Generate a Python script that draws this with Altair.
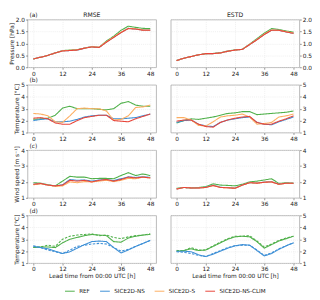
import altair as alt
import pandas as pd

T = [0, 3, 6, 9, 12, 15, 18, 21, 24, 27, 30, 33, 36, 39, 42, 45, 48]
SERIES = ["REF", "SICE2D-NS", "SICE2D-S", "SICE2D-NS-CLIM"]
COLORS = ["#4fb04a", "#3d8fd6", "#fdae61", "#e8453a"]
X_TICKS = [0, 12, 24, 36, 48]

# (a) pressure
A_RMSE_REF = [0.35, 0.42, 0.5, 0.6, 0.7, 0.72, 0.74, 0.8, 0.86, 0.83, 1.1, 1.3, 1.55, 1.72, 1.67, 1.63, 1.62]
A_RMSE_NS = [0.35, 0.42, 0.5, 0.6, 0.69, 0.7, 0.72, 0.8, 0.86, 0.83, 1.06, 1.26, 1.46, 1.63, 1.6, 1.56, 1.56]
A_RMSE_S = [0.35, 0.42, 0.5, 0.6, 0.69, 0.71, 0.73, 0.8, 0.86, 0.84, 1.07, 1.27, 1.47, 1.63, 1.61, 1.56, 1.56]
A_RMSE_CLIM = [0.35, 0.42, 0.5, 0.6, 0.68, 0.7, 0.72, 0.8, 0.85, 0.83, 1.05, 1.25, 1.45, 1.62, 1.6, 1.55, 1.55]
A_ESTD_REF = [0.28, 0.38, 0.45, 0.52, 0.57, 0.58, 0.61, 0.68, 0.73, 0.75, 0.97, 1.2, 1.43, 1.62, 1.58, 1.52, 1.47]
A_ESTD_NS = [0.28, 0.38, 0.45, 0.52, 0.57, 0.57, 0.6, 0.67, 0.72, 0.75, 0.95, 1.16, 1.38, 1.55, 1.55, 1.48, 1.42]
A_ESTD_S = [0.28, 0.38, 0.45, 0.52, 0.57, 0.57, 0.6, 0.67, 0.72, 0.75, 0.96, 1.16, 1.39, 1.56, 1.55, 1.49, 1.43]
A_ESTD_CLIM = [0.28, 0.38, 0.45, 0.52, 0.57, 0.57, 0.6, 0.67, 0.72, 0.75, 0.95, 1.15, 1.37, 1.55, 1.55, 1.48, 1.42]

# (b) temperature
B_RMSE_REF = [2.1, 2.15, 2.2, 2.45, 3.05, 3.2, 3.0, 3.0, 3.0, 2.95, 2.9, 3.0, 3.45, 3.6, 3.3, 3.2, 3.2]
B_RMSE_NS = [2.0, 2.1, 2.15, 1.9, 1.9, 1.95, 2.1, 2.3, 2.4, 2.45, 2.45, 2.15, 2.15, 2.2, 2.25, 2.4, 2.55]
B_RMSE_S = [2.6, 2.55, 2.4, 1.9, 1.85, 2.4, 3.0, 3.05, 3.0, 3.0, 2.8, 2.05, 2.1, 2.4, 3.1, 3.15, 3.3]
B_RMSE_CLIM = [2.2, 2.25, 2.15, 1.8, 1.7, 1.7, 2.0, 2.25, 2.35, 2.45, 2.45, 2.0, 1.95, 1.9, 2.15, 2.35, 2.55]
B_ESTD_REF = [1.8, 2.0, 2.15, 2.1, 2.2, 2.3, 2.45, 2.6, 2.65, 2.75, 2.75, 2.5, 2.55, 2.6, 2.65, 2.7, 2.8]
B_ESTD_NS = [1.85, 2.0, 2.05, 1.7, 1.55, 1.5, 1.85, 2.05, 2.15, 2.25, 2.3, 1.85, 1.7, 1.65, 1.9, 2.1, 2.3]
B_ESTD_S = [2.25, 2.25, 2.05, 1.6, 1.55, 1.9, 2.3, 2.4, 2.45, 2.55, 2.3, 1.7, 1.75, 1.85, 2.3, 2.4, 2.55]
B_ESTD_CLIM = [1.95, 2.05, 2.05, 1.7, 1.5, 1.45, 1.85, 2.05, 2.2, 2.3, 2.35, 1.85, 1.7, 1.7, 1.95, 2.15, 2.4]

# (c) wind speed
C_RMSE_REF = [1.95, 1.92, 1.82, 1.75, 2.05, 2.35, 2.3, 2.3, 2.2, 2.22, 2.22, 2.2, 2.4, 2.58, 2.4, 2.5, 2.4]
C_RMSE_NS = [1.85, 1.9, 1.8, 1.75, 1.82, 2.15, 2.1, 2.12, 2.05, 2.12, 2.15, 2.08, 2.2, 2.32, 2.28, 2.33, 2.28]
C_RMSE_S = [1.82, 1.88, 1.8, 1.72, 1.75, 2.0, 1.95, 2.02, 2.0, 2.05, 2.1, 2.02, 2.1, 2.22, 2.2, 2.3, 2.25]
C_RMSE_CLIM = [1.85, 1.9, 1.8, 1.75, 1.8, 2.1, 2.05, 2.1, 2.0, 2.1, 2.15, 2.05, 2.15, 2.3, 2.25, 2.3, 2.25]
C_ESTD_REF = [1.6, 1.65, 1.62, 1.65, 1.7, 1.88, 1.8, 1.78, 1.75, 1.85, 2.0, 2.05, 2.12, 2.2, 1.9, 1.95, 1.92]
C_ESTD_NS = [1.56, 1.65, 1.62, 1.62, 1.66, 1.79, 1.66, 1.64, 1.61, 1.8, 1.95, 1.93, 1.99, 2.01, 1.86, 1.92, 1.92]
C_ESTD_S = [1.56, 1.65, 1.62, 1.62, 1.65, 1.78, 1.65, 1.63, 1.6, 1.8, 1.95, 1.92, 1.98, 2.0, 1.85, 1.92, 1.92]
C_ESTD_CLIM = [1.55, 1.65, 1.62, 1.62, 1.65, 1.78, 1.65, 1.63, 1.6, 1.8, 1.95, 1.92, 1.98, 2.0, 1.85, 1.92, 1.92]

# (d) temperature, solid / dashed
D_RMSE_REF = [2.3, 2.35, 2.35, 2.3, 2.7, 3.0, 3.15, 3.3, 3.4, 3.35, 3.3, 2.8, 2.75, 3.1, 3.25, 3.35, 3.4]
D_RMSE_REF_DASH = [2.3, 2.35, 2.5, 2.4, 3.0, 3.25, 3.35, 3.4, 3.45, 3.3, 3.35, 3.15, 3.05, 3.2, 3.3, 3.35, 3.45]
D_RMSE_NS = [2.4, 2.3, 2.2, 2.0, 1.8, 1.95, 2.25, 2.55, 2.8, 2.85, 2.8, 2.3, 1.85, 2.1, 2.4, 2.65, 2.9]
D_RMSE_NS_DASH = [2.45, 2.3, 2.1, 1.95, 1.8, 2.1, 2.4, 2.5, 2.6, 2.65, 2.6, 2.3, 2.0, 2.15, 2.4, 2.65, 2.9]
D_ESTD_REF = [2.0, 2.05, 2.2, 2.05, 2.1, 2.4, 2.7, 3.0, 3.2, 3.25, 3.2, 2.8, 2.25, 2.55, 2.85, 3.05, 3.25]
D_ESTD_REF_DASH = [2.05, 2.05, 2.3, 2.1, 2.1, 2.45, 2.75, 3.05, 3.25, 3.25, 3.3, 2.85, 2.35, 2.6, 2.9, 3.1, 3.25]
D_ESTD_NS = [2.0, 2.0, 1.95, 1.7, 1.55, 1.75, 2.0, 2.25, 2.45, 2.55, 2.5, 2.05, 1.6, 1.8, 2.15, 2.45, 2.7]
D_ESTD_NS_DASH = [1.95, 1.9, 1.8, 1.65, 1.55, 1.8, 2.05, 2.3, 2.45, 2.5, 2.5, 2.1, 1.65, 1.85, 2.2, 2.45, 2.7]

rows = []


def add(panel, col, series, style, vals):
    for t, v in zip(T, vals):
        rows.append({"panel": panel, "col": col, "series": series, "style": style, "t": t, "v": v})


for p, col, sets in [
    ("a", "RMSE", [A_RMSE_REF, A_RMSE_NS, A_RMSE_S, A_RMSE_CLIM]),
    ("a", "ESTD", [A_ESTD_REF, A_ESTD_NS, A_ESTD_S, A_ESTD_CLIM]),
    ("b", "RMSE", [B_RMSE_REF, B_RMSE_NS, B_RMSE_S, B_RMSE_CLIM]),
    ("b", "ESTD", [B_ESTD_REF, B_ESTD_NS, B_ESTD_S, B_ESTD_CLIM]),
    ("c", "RMSE", [C_RMSE_REF, C_RMSE_NS, C_RMSE_S, C_RMSE_CLIM]),
    ("c", "ESTD", [C_ESTD_REF, C_ESTD_NS, C_ESTD_S, C_ESTD_CLIM]),
]:
    for s, vals in zip(SERIES, sets):
        add(p, col, s, "solid", vals)

add("d", "RMSE", "REF", "solid", D_RMSE_REF)
add("d", "RMSE", "REF", "dashed", D_RMSE_REF_DASH)
add("d", "RMSE", "SICE2D-NS", "solid", D_RMSE_NS)
add("d", "RMSE", "SICE2D-NS", "dashed", D_RMSE_NS_DASH)
add("d", "ESTD", "REF", "solid", D_ESTD_REF)
add("d", "ESTD", "REF", "dashed", D_ESTD_REF_DASH)
add("d", "ESTD", "SICE2D-NS", "solid", D_ESTD_NS)
add("d", "ESTD", "SICE2D-NS", "dashed", D_ESTD_NS_DASH)

df = pd.DataFrame(rows)

PANELS = [
    ("a", 0, 2, [0, 0.5, 1, 1.5, 2], ".1f", "Pressure [hPa]"),
    ("b", 1, 5, [1, 2, 3, 4, 5], "d", "Temperature [°C]"),
    ("c", 1, 4, [1, 2, 3, 4], "d", "Wind speed [m s⁻¹]"),
    ("d", 1, 5, [1, 2, 3, 4, 5], "d", "Temperature [°C]"),
]

W, H = 132, 49
FS = 6


def make_panel(p, col, ymin, ymax, yticks, fmt, ytitle, first, last):
    left = col == "RMSE"
    base = alt.Chart(df).transform_filter(
        (alt.datum.panel == p) & (alt.datum.col == col)
    )
    x_axis_kwargs = dict(values=X_TICKS, grid=True)
    x_axis_kwargs["title"] = "Lead time from 00:00 UTC [h]" if last else None
    y_axis_kwargs = dict(values=yticks, format=fmt, orient="left" if left else "right", grid=True)
    y_axis_kwargs["title"] = ytitle if left else None
    lines = base.mark_line(strokeWidth=1.1, clip=True).encode(
        x=alt.X("t:Q", scale=alt.Scale(domain=[-2.4, 50.4], nice=False, zero=False),
                axis=alt.Axis(**x_axis_kwargs)),
        y=alt.Y("v:Q", scale=alt.Scale(domain=[ymin, ymax], nice=False, zero=False),
                axis=alt.Axis(**y_axis_kwargs)),
        color=alt.Color("series:N", scale=alt.Scale(domain=SERIES, range=COLORS),
                        legend=alt.Legend(title=None, orient="none", direction="horizontal",
                                          legendX=38, legendY=273,
                                          symbolType="stroke", symbolSize=100,
                                          symbolStrokeWidth=1.0, labelFontSize=5.8,
                                          labelOffset=4, columnPadding=7, columns=4)),
        strokeDash=alt.StrokeDash("style:N",
                                  scale=alt.Scale(domain=["solid", "dashed"], range=[[1, 0], [2.5, 1.5]]),
                                  legend=None),
    )
    layers = [lines]
    if left:
        lab = alt.Chart(pd.DataFrame({"label": [f"({p})"]})).mark_text(
            align="left", baseline="bottom", fontSize=FS, font="DejaVu Sans", color="#222"
        ).encode(x=alt.value(2), y=alt.value(-1.5), text="label:N")
        layers.append(lab)
    if first:
        ttl = alt.Chart(pd.DataFrame({"label": [col]})).mark_text(
            align="center", baseline="bottom", fontSize=6.3, font="DejaVu Sans", color="#222"
        ).encode(x=alt.value(W / 2), y=alt.value(-1.5), text="label:N")
        layers.append(ttl)
    return alt.layer(*layers).properties(width=W, height=H)


panels = []
for i, (p, ymin, ymax, yticks, fmt, ytitle) in enumerate(PANELS):
    panels.append(make_panel(p, "RMSE", ymin, ymax, yticks, fmt, ytitle, i == 0, i == 3))
    panels.append(make_panel(p, "ESTD", ymin, ymax, yticks, fmt, ytitle, i == 0, i == 3))

chart = alt.concat(*panels, columns=2, spacing={"row": 18, "column": 15}, bounds="flush").resolve_scale(
    x="independent", y="independent", strokeDash="independent"
).resolve_axis(x="independent", y="independent").properties(padding=0).configure_view(
    stroke="#a8a8a8", strokeWidth=0.8
).configure_axis(
    labelFont="DejaVu Sans", labelFontSize=FS, labelColor="#222",
    titleFont="DejaVu Sans", titleFontSize=FS, titleFontWeight="normal", titleColor="#222",
    tickColor="#555", tickSize=2, tickWidth=0.6, domain=False,
    gridColor="#e6e6e6", gridDash=[1, 1], gridWidth=0.6, labelPadding=1, titlePadding=1,
).configure_legend(
    labelFont="DejaVu Sans", labelColor="#222"
)

chart.save("out.html", embed_options={"renderer": "svg", "actions": False})
